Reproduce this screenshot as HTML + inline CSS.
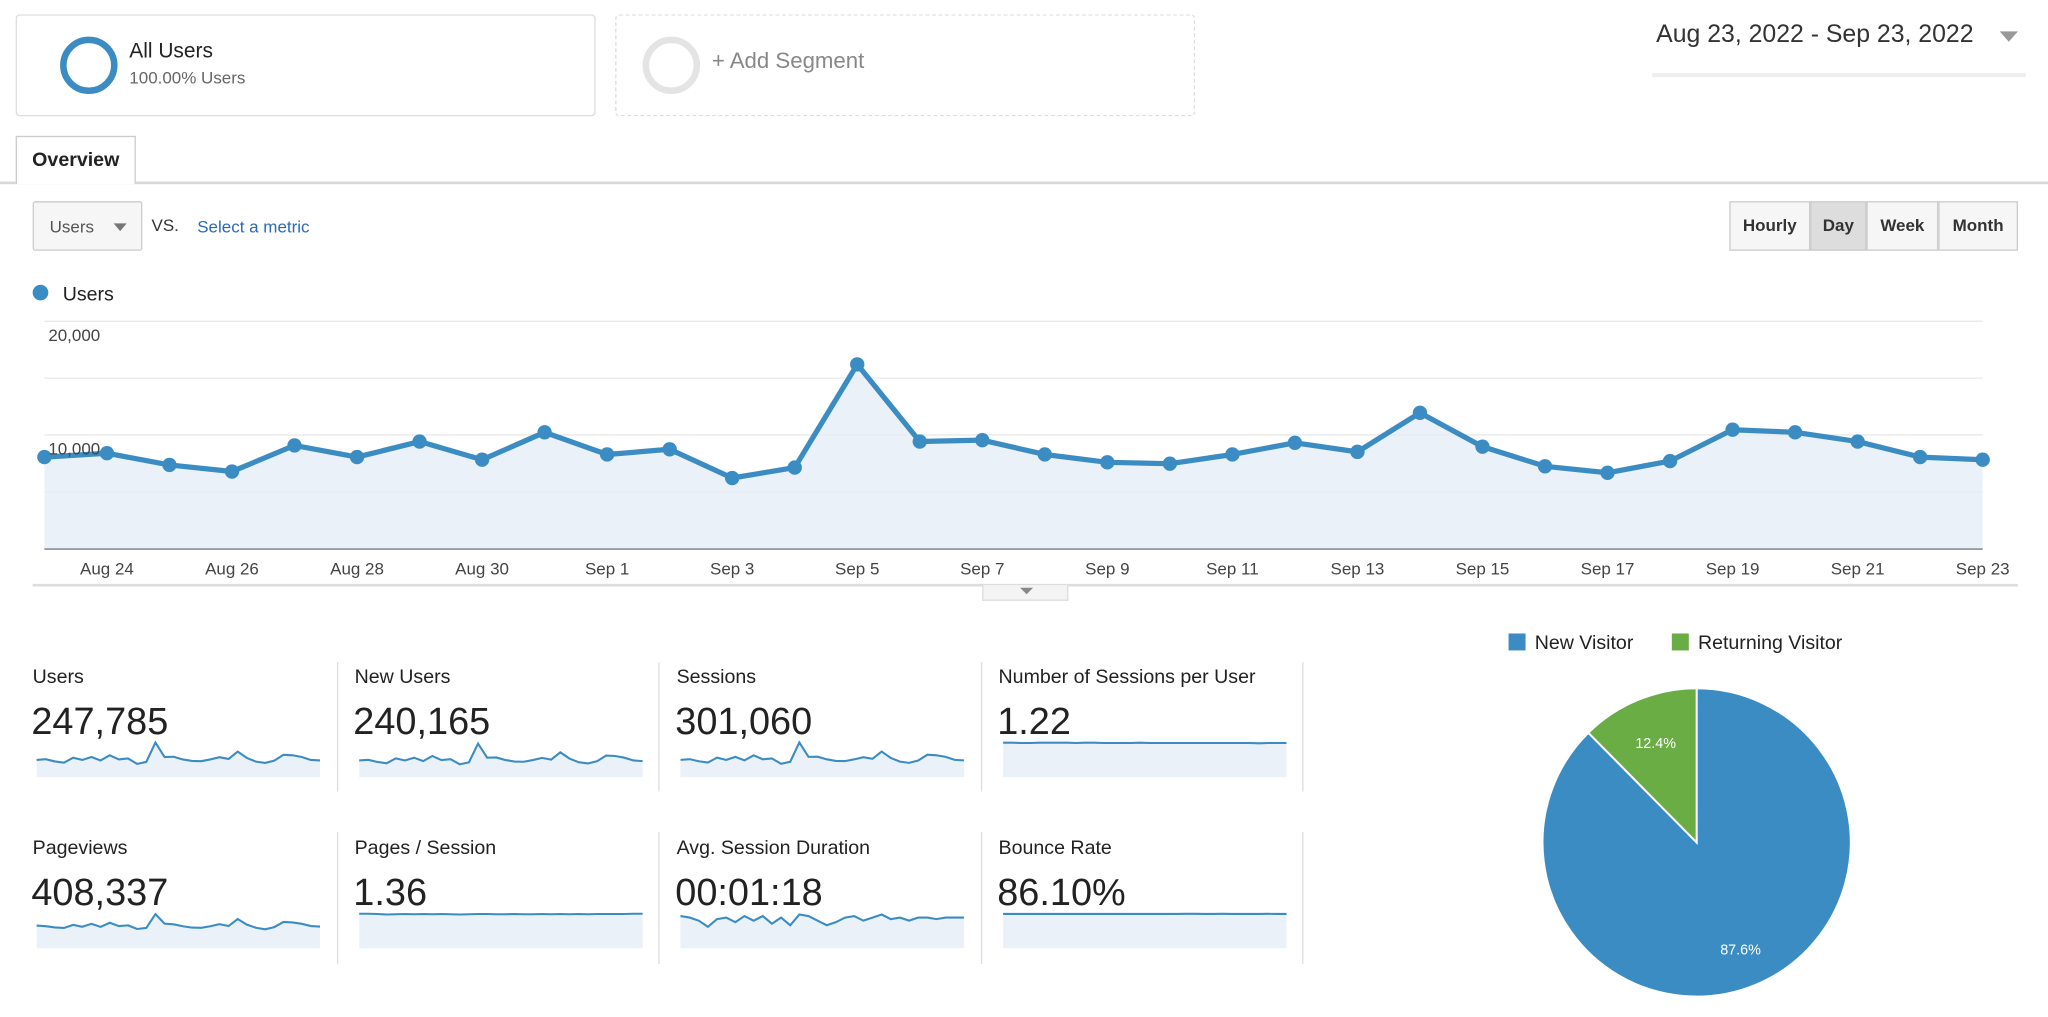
<!DOCTYPE html>
<html><head><meta charset="utf-8"><style>
html,body{margin:0;padding:0;background:#fff;width:2048px;height:1017px;overflow:hidden}
#wrap{position:absolute;left:0;top:0;width:1568px;height:779px;transform:scale(1.30612);transform-origin:0 0;font-family:"Liberation Sans",Arial,sans-serif;color:#222}
.abs{position:absolute}
.seg{position:absolute;top:11px;height:78px;width:444px;box-sizing:border-box;border:1px solid #ddd;border-radius:3px;background:#fff}
.btn{position:absolute;top:154px;height:38px;box-sizing:border-box;border:1px solid #ccc;background:#f6f6f6;font-size:13px;font-weight:bold;color:#333;line-height:36px;text-align:center}
.tile{position:absolute;width:232px;height:100px}
.tile .lab{position:absolute;left:0;top:0;font-size:15px;color:#222}
.tile .val{position:absolute;left:-1px;top:27px;font-size:29px;color:#222}
.sep{position:absolute;width:1px;background:#ddd}
</style></head><body>
<div id="wrap">
<div class="seg" style="left:12px">
 <div class="abs" style="left:33px;top:18px;width:34px;height:34px;border:5px solid #3c8cc4;border-radius:50%;box-sizing:border-box;width:44px;height:44px;top:16px"></div>
 <div class="abs" style="left:86px;top:19px;font-size:16px;color:#222">All Users</div>
 <div class="abs" style="left:86px;top:40px;font-size:13px;color:#666">100.00% Users</div>
</div>
<div class="seg" style="left:471px;border:1px dashed #ddd">
 <div class="abs" style="left:20px;top:16px;width:44px;height:44px;border:5px solid #e4e4e4;border-radius:50%;box-sizing:border-box"></div>
 <div class="abs" style="left:73px;top:25px;font-size:17px;color:#888">+ Add Segment</div>
</div>
<div class="abs" style="left:1268px;top:16px;font-size:19px;color:#333">Aug 23, 2022 - Sep 23, 2022</div>
<div class="abs" style="left:1531px;top:24px;width:0;height:0;border-left:7px solid transparent;border-right:7px solid transparent;border-top:8px solid #999"></div>
<div class="abs" style="left:1265px;top:56px;width:286px;height:3px;background:#eee"></div>
<div class="abs" style="left:12px;top:104px;width:92px;height:37px;border:1px solid #ccc;border-bottom:none;background:#fff;box-sizing:border-box;font-size:15px;font-weight:bold;line-height:36px;text-align:center;z-index:2">Overview</div>
<div class="abs" style="left:0;top:139px;width:1568px;height:2px;background:#d8d8d8"></div>
<div class="abs" style="left:25px;top:154px;width:84px;height:38px;border:1px solid #ccc;border-radius:2px;background:#f6f6f6;box-sizing:border-box">
 <span class="abs" style="left:12px;top:11px;font-size:13px;color:#555">Users</span>
 <span class="abs" style="left:61px;top:16px;border-left:5px solid transparent;border-right:5px solid transparent;border-top:6px solid #777"></span>
</div>
<div class="abs" style="left:116px;top:165px;font-size:13px;color:#333">VS.</div>
<div class="abs" style="left:151px;top:166px;font-size:13px;color:#2a6ab8">Select a metric</div>
<div class="btn" style="left:1324px;width:62px">Hourly</div>
<div class="btn" style="left:1386px;width:43px;background:#ddd">Day</div>
<div class="btn" style="left:1429px;width:55px">Week</div>
<div class="btn" style="left:1484px;width:61px">Month</div>

<svg class="abs" style="left:0;top:0" width="1568" height="779" id="main"></svg>
<div class="abs" style="left:752px;top:448px;width:64px;height:11px;border:1px solid #ddd;border-top:none;background:#f4f4f4"><span class="abs" style="left:28px;top:2px;border-left:5px solid transparent;border-right:5px solid transparent;border-top:5px solid #888"></span></div>

<div class="sep" style="left:258px;top:507px;height:99px"></div>
<div class="sep" style="left:504px;top:507px;height:99px"></div>
<div class="sep" style="left:751px;top:507px;height:99px"></div>
<div class="sep" style="left:997px;top:507px;height:99px"></div>
<div class="sep" style="left:258px;top:637px;height:101px"></div>
<div class="sep" style="left:504px;top:637px;height:101px"></div>
<div class="sep" style="left:751px;top:637px;height:101px"></div>
<div class="sep" style="left:997px;top:637px;height:101px"></div>
<div id="tiles"></div>
<svg class="abs" style="left:0;top:0" width="1568" height="779" id="pie"></svg>
</div>
<script>
const dates=["Aug 23","Aug 24","Aug 25","Aug 26","Aug 27","Aug 28","Aug 29","Aug 30","Aug 31","Sep 1","Sep 2","Sep 3","Sep 4","Sep 5","Sep 6","Sep 7","Sep 8","Sep 9","Sep 10","Sep 11","Sep 12","Sep 13","Sep 14","Sep 15","Sep 16","Sep 17","Sep 18","Sep 19","Sep 20","Sep 21","Sep 22","Sep 23"];
const users=[8050,8390,7360,6780,9080,8050,9420,7820,10230,8280,8740,6210,7130,16210,9420,9540,8280,7590,7470,8280,9310,8510,11950,8970,7240,6670,7700,10460,10230,9420,8050,7820];
const yTicks=[20000,10000];
const xTickLabels=["Aug 24","Aug 26","Aug 28","Aug 30","Sep 1","Sep 3","Sep 5","Sep 7","Sep 9","Sep 11","Sep 13","Sep 15","Sep 17","Sep 19","Sep 21","Sep 23"];
const pieLabels=["New Visitor","Returning Visitor"];
const pieValues=[87.6,12.4];
const tileLabels=["Users","New Users","Sessions","Number of Sessions per User","Pageviews","Pages / Session","Avg. Session Duration","Bounce Rate"];
const tileValues=["247,785","240,165","301,060","1.22","408,337","1.36","00:01:18","86.10%"];
const sparkUsers=users;
const sparkNewUsers=[7800,8100,7100,6500,8800,7800,9100,7500,9900,8000,8400,6000,6900,15700,9100,9200,8000,7300,7200,8000,9000,8200,11600,8700,7000,6400,7400,10100,9900,9100,7800,7500];
const sparkSessions=[9800,10200,9000,8300,11100,9800,11500,9500,12400,10100,10600,7600,8700,19700,11500,11600,10100,9200,9100,10100,11300,10400,14500,10900,8800,8100,9400,12700,12400,11500,9800,9500];
const sparkSessPerUser=[1.23,1.23,1.22,1.22,1.23,1.23,1.23,1.23,1.22,1.23,1.23,1.22,1.22,1.22,1.22,1.23,1.22,1.22,1.22,1.22,1.22,1.22,1.22,1.22,1.22,1.22,1.22,1.22,1.21,1.22,1.22,1.22];
const sparkPageviews=[13200,12800,12100,11800,13600,12500,14200,12400,14800,12900,13300,11200,11800,19800,14300,13900,12800,12000,11900,12800,14000,12900,17000,13700,11900,11000,12300,15300,15000,14200,12900,12600];
const sparkPagesPerSession=[1.37,1.37,1.36,1.34,1.35,1.36,1.35,1.36,1.35,1.36,1.35,1.34,1.35,1.36,1.36,1.35,1.35,1.36,1.35,1.35,1.36,1.35,1.36,1.35,1.36,1.35,1.36,1.36,1.36,1.36,1.37,1.37];
const sparkDuration=[82,80,76,68,78,80,74,82,76,82,72,80,70,84,82,76,70,74,80,82,76,80,84,78,80,76,80,80,78,80,80,80];
const sparkBounce=[86.0,86.0,86.1,86.0,86.1,86.1,86.0,86.1,86.1,86.0,86.1,86.0,86.2,86.2,86.2,86.2,86.2,86.2,86.2,86.2,86.3,86.3,86.2,86.2,86.3,86.2,86.2,86.2,86.2,86.3,86.2,86.2];

const NS="http://www.w3.org/2000/svg";
function mk(parent,tag,attrs){const e=document.createElementNS(NS,tag);for(const k in attrs)e.setAttribute(k,attrs[k]);parent.appendChild(e);return e;}

// main chart
const svg=document.getElementById('main');
const X0=34,X1=1518,Y0=420,PXPER=87/10000;
const xs=i=>X0+(X1-X0)*i/(dates.length-1);
const ys=v=>Y0-v*PXPER;
const lg=mk(svg,'circle',{cx:31,cy:224,r:6,fill:'#3c8cc4'});


const lt=mk(svg,'text',{x:48,y:230,'font-size':15,fill:'#222','font-family':'Liberation Sans, sans-serif'});lt.textContent='Users';


[0,5000,10000,15000,20000].forEach(v=>{const g=mk(svg,'line',{x1:X0,x2:X1,y1:ys(v),y2:ys(v),stroke:v==0?'#333':'#eee','stroke-width':v==0?1.5:1});

});
let d='M'+xs(0)+','+Y0;users.forEach((v,i)=>d+=' L'+xs(i)+','+ys(v));d+=' L'+xs(users.length-1)+','+Y0+'Z';
const area=mk(svg,'path',{d:d,fill:'#eaf1f8'});


[0,5000,10000,15000,20000].forEach(v=>{if(v>0)mk(svg,'line',{x1:X0,x2:X1,y1:ys(v),y2:ys(v),stroke:'#e6e6e6','stroke-width':0.8,'stroke-opacity':0.6});});
const line=mk(svg,'polyline',{points:users.map((v,i)=>xs(i)+','+ys(v)).join(' '),fill:'none',stroke:'#3c8cc4','stroke-width':4,'stroke-linejoin':'round'});


users.forEach((v,i)=>{const c=mk(svg,'circle',{cx:xs(i),cy:ys(v),r:5.5,fill:'#3c8cc4'});

});
yTicks.forEach(v=>{const t=mk(svg,'text',{x:37,y:ys(v)+15,'font-size':13,fill:'#444','font-family':'Liberation Sans, sans-serif'});t.textContent=v.toLocaleString('en-US');

});
xTickLabels.forEach(lbl=>{const i=dates.indexOf(lbl);const t=mk(svg,'text',{x:xs(i),y:440,'font-size':13,fill:'#444','text-anchor':'middle','font-family':'Liberation Sans, sans-serif'});t.textContent=lbl;

});
mk(svg,'line',{x1:25,x2:1545,y1:448,y2:448,stroke:'#ddd','stroke-width':2});

// tiles
const tiles=document.getElementById('tiles');
const sparks=[[sparkUsers,0,16500],[sparkNewUsers,0,16500],[sparkSessions,0,20000],[sparkSessPerUser,0,1.26],[sparkPageviews,0,20500],[sparkPagesPerSession,0,1.40],[sparkDuration,40,86],[sparkBounce,0,88.5]];
tileLabels.forEach((lbl,k)=>{
 const col=k%4,row=Math.floor(k/4);
 const left=25+col*246.5,top=row?641:510;
 const t=document.createElement('div');t.className='tile';t.style.left=left+'px';t.style.top=top+'px';
 
 
 const l=document.createElement('div');l.className='lab';l.textContent=lbl;
 
 
 const v=document.createElement('div');v.className='val';v.textContent=tileValues[k];
 
 
 t.appendChild(l);t.appendChild(v);
 const s=document.createElementNS(NS,'svg');s.setAttribute('width',220);s.setAttribute('height',30);s.style.position='absolute';s.style.left='2px';s.style.top='57px';
 
 
 const [arr,lo,hi]=sparks[k];const W=217,H=27;
 const sx=i=>1+W*i/(arr.length-1),sy=val=>28-(val-lo)/(hi-lo)*H;
 let p='M'+sx(0)+',28';arr.forEach((a,i)=>p+=' L'+sx(i)+','+sy(a));p+=' L'+sx(arr.length-1)+',28Z';
 mk(s,'path',{d:p,fill:'#eaf1f8'});
 mk(s,'polyline',{points:arr.map((a,i)=>sx(i)+','+sy(a)).join(' '),fill:'none',stroke:'#3c8cc4','stroke-width':1.6});
 t.appendChild(s);tiles.appendChild(t);
});

// pie
const pie=document.getElementById('pie');
const cx=1299,cy=645,R=118,colors=['#3c8cc4','#6aad45'];
const lx=[1155,1280];
pieLabels.forEach((lbl,i)=>{const r=mk(pie,'rect',{x:lx[i],y:485,width:13,height:13,fill:colors[i]});


const t=mk(pie,'text',{x:lx[i]+20,y:497,'font-size':15,fill:'#222','font-family':'Liberation Sans, sans-serif'});t.textContent=lbl;

});
const tot=pieValues.reduce((a,b)=>a+b,0);
let start=-Math.PI/2;
pieValues.forEach((v,i)=>{const ang=v/tot*2*Math.PI;const end=start+ang;
 const x1=cx+R*Math.cos(start),y1=cy+R*Math.sin(start),x2=cx+R*Math.cos(end),y2=cy+R*Math.sin(end);
 const p=mk(pie,'path',{d:`M${cx},${cy} L${x1},${y1} A${R},${R} 0 ${ang>Math.PI?1:0} 1 ${x2},${y2} Z`,fill:colors[i],stroke:'#fff','stroke-width':1.5});
 
 
 const mid=start+ang/2,rr=i==0?R*0.75:R*0.7;
 const t=mk(pie,'text',{x:cx+rr*Math.cos(mid),y:cy+rr*Math.sin(mid)+4,'font-size':11,fill:'#fff','text-anchor':'middle','font-family':'Liberation Sans, sans-serif'});t.textContent=v.toFixed(1)+'%';
 
 
 start=end;});
</script>
</body></html>
